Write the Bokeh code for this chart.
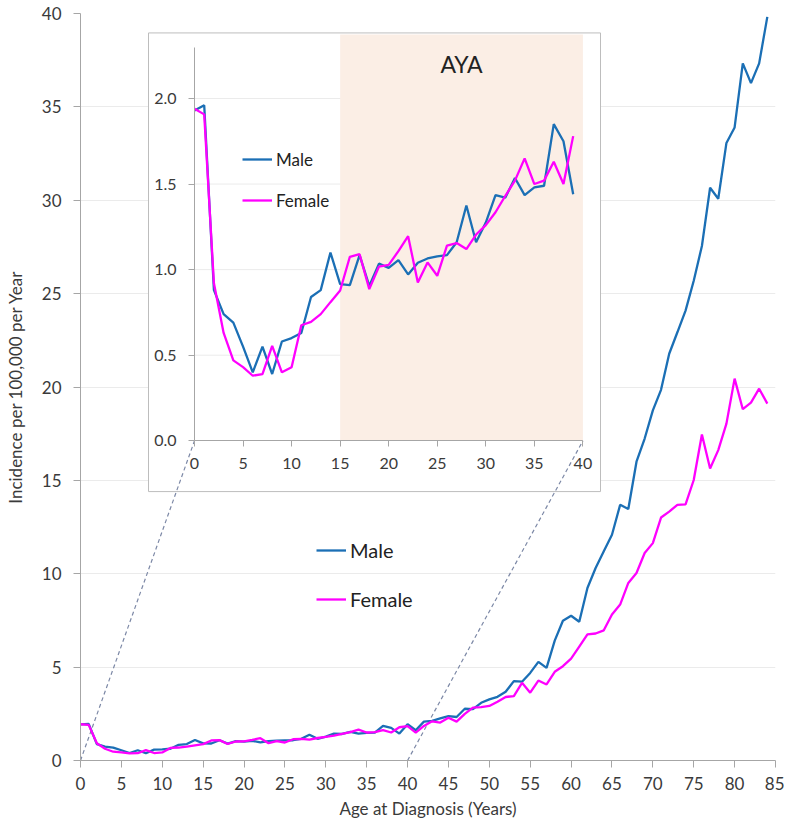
from bokeh.plotting import figure
from bokeh.models import (Range1d, LinearAxis, FixedTicker, PrintfTickFormatter,
                          Legend, LegendItem, Label)
from bokeh.embed import file_html
from bokeh.resources import INLINE

# ---------------- data ----------------
ages = list(range(85))
male_rate = [1.93, 1.96, 0.88, 0.74, 0.69, 0.55, 0.40, 0.55, 0.39, 0.58,
             0.60, 0.63, 0.84, 0.88, 1.10, 0.915, 0.91, 1.085, 0.905, 1.035,
             1.01, 1.055, 0.972, 1.04, 1.065, 1.078, 1.085, 1.16, 1.375, 1.16,
             1.275, 1.435, 1.42, 1.535, 1.435, 1.48, 1.49, 1.85, 1.75, 1.44,
             1.94, 1.62, 2.08, 2.12, 2.26, 2.38, 2.33, 2.77, 2.75, 3.09,
             3.27, 3.41, 3.68, 4.25, 4.22, 4.69, 5.28, 4.96, 6.42, 7.48,
             7.75, 7.43, 9.24, 10.31, 11.2, 12.09, 13.69, 13.47, 16.0, 17.24,
             18.75, 19.85, 21.78, 22.93, 24.09, 25.69, 27.55, 30.67, 30.08, 33.07,
             33.9, 37.33, 36.27, 37.33, 39.82]
female_rate = [1.94, 1.907, 0.92, 0.63, 0.47, 0.43, 0.38, 0.39, 0.555, 0.40,
               0.43, 0.675, 0.695, 0.74, 0.81, 0.878, 1.075, 1.09, 0.886, 1.018,
               1.028, 1.108, 1.195, 0.925, 1.042, 0.964, 1.14, 1.155, 1.12, 1.205,
               1.26, 1.335, 1.43, 1.52, 1.65, 1.50, 1.52, 1.63, 1.50, 1.78,
               1.84, 1.49, 1.85, 2.10, 2.03, 2.29, 2.08, 2.50, 2.83, 2.86,
               2.92, 3.15, 3.40, 3.45, 4.16, 3.63, 4.28, 4.07, 4.75, 5.05,
               5.45, 6.10, 6.75, 6.80, 6.97, 7.82, 8.35, 9.51, 10.04, 11.11,
               11.64, 13.01, 13.33, 13.69, 13.72, 15.02, 17.46, 15.64, 16.62, 18.04,
               20.45, 18.81, 19.16, 19.91, 19.11]
inset_age_limit = 40
aya_span = [15, 40]
aya_text = "AYA"
series_names = ["Male", "Female"]
main_xticks = list(range(0, 90, 5))
main_yticks = list(range(0, 45, 5))
inset_xticks = list(range(0, 45, 5))
inset_yticks = [0.0, 0.5, 1.0, 1.5, 2.0]
x_title = "Age at Diagnosis (Years)"
y_title = "Incidence per 100,000 per Year"

# ---------------- style / layout ----------------
FONT = "Lato"
MALE_C = "#1b6fb5"
FEMALE_C = "#ff00ff"
AXIS_C = "#a6a6a6"
GRID_C = "#ebebeb"
TEXT_C = "#3a3a3a"
SHADE_C = "#fbeee5"

W, H = 784, 821
BL, BR, BT, BB = 80, 9, 13, 58
FW, FH = W - BL - BR, H - BT - BB          # frame size in px
MAIN_X = (0, 85)
MAIN_Y = (0, 40)

# inset placement, given in canvas pixels, converted to frame pixels
IN_OX, IN_OY = 194.0 - BL, 442.0 - BT     # inset data origin
IN_SX, IN_SY = 9.71, 171.85               # px per inset unit
BOX_L, BOX_R, BOX_T, BOX_B = 148.0 - BL, 600.0 - BL, 32.5 - BT, 493.0 - BT
AYA_TEXT_Y = 63.3 - BT
INSET_Y_AXIS_TOP = 2.3
LEG_MAIN = (316 - BL, (H - BB) - 614)     # legend bottom-left, frame px
LEG_INSET = (242 - BL, (H - BB) - 215)


def ix(px):
    return (px - IN_OX) / IN_SX


def iy(py):
    return (IN_OY - py) / IN_SY


def mx(px):
    return MAIN_X[0] + px / FW * (MAIN_X[1] - MAIN_X[0])


def my(py):
    return MAIN_Y[0] + (FH - py) / FH * (MAIN_Y[1] - MAIN_Y[0])


p = figure(width=W, height=H, x_range=Range1d(*MAIN_X), y_range=Range1d(*MAIN_Y),
           output_backend="svg", toolbar_location=None,
           min_border_left=BL, min_border_right=BR, min_border_top=BT,
           min_border_bottom=BB)
p.outline_line_color = None
p.background_fill_color = "white"
p.border_fill_color = "white"
p.extra_x_ranges = {"ix": Range1d(ix(0), ix(FW))}
p.extra_y_ranges = {"iy": Range1d(iy(FH), iy(0))}

# main grid
p.xgrid.visible = False
p.ygrid.ticker = FixedTicker(ticks=main_yticks)
p.ygrid.grid_line_color = GRID_C

# main axes
for ax in (p.xaxis[0], p.yaxis[0]):
    ax.axis_line_color = AXIS_C
    ax.major_tick_line_color = AXIS_C
    ax.minor_tick_line_color = None
    ax.major_tick_in = 0
    ax.major_tick_out = 7
    ax.major_label_text_font = FONT
    ax.major_label_text_font_size = "17px"
    ax.major_label_text_color = TEXT_C
    ax.axis_label_text_font = FONT
    ax.axis_label_text_font_size = "17px"
    ax.axis_label_text_font_style = "normal"
    ax.axis_label_text_color = TEXT_C
p.xaxis.ticker = FixedTicker(ticks=main_xticks)
p.yaxis.ticker = FixedTicker(ticks=main_yticks)
p.xaxis.major_label_standoff = 9
p.yaxis.major_label_standoff = 12
p.xaxis.axis_label = x_title
p.yaxis.axis_label = y_title
p.xaxis.axis_label_standoff = 5
p.yaxis.axis_label_standoff = 13

# inset white box
p.quad(left=[ix(BOX_L)], right=[ix(BOX_R)], top=[iy(BOX_T)], bottom=[iy(BOX_B)],
       x_range_name="ix", y_range_name="iy",
       fill_color="white", line_color="#bdbdbd", line_width=1)

# inset grid
gy = [t for t in inset_yticks if t > 0]
p.segment(x0=[inset_xticks[0]] * len(gy), x1=[inset_xticks[-1]] * len(gy), y0=gy, y1=gy,
          x_range_name="ix", y_range_name="iy", line_color=GRID_C, line_width=1)

# AYA shading
p.quad(left=[aya_span[0]], right=[aya_span[1]], top=[iy(BOX_T + 1.5)], bottom=[0],
       x_range_name="ix", y_range_name="iy", fill_color=SHADE_C, line_color=None)
p.add_layout(Label(x=sum(aya_span) / 2, y=iy(AYA_TEXT_Y), x_range_name="ix", y_range_name="iy",
                   text=aya_text, text_align="center", text_baseline="middle",
                   text_font=FONT, text_font_size="23px", text_color="#222222"))

# connecting dashed lines (main -> inset)
p.segment(x0=[0, inset_age_limit], y0=[0, 0],
          x1=[mx(IN_OX), mx(IN_OX + inset_age_limit * IN_SX)], y1=[my(IN_OY), my(IN_OY)],
          line_color="#7c88a6", line_dash="4 3", line_width=1.2)

# main lines
rm = p.line(ages, male_rate, line_color=MALE_C, line_width=2.3)
rf = p.line(ages, female_rate, line_color=FEMALE_C, line_width=2.3)

# inset lines
n = inset_age_limit
irm = p.line(ages[:n], male_rate[:n], x_range_name="ix", y_range_name="iy",
             line_color=MALE_C, line_width=2.3)
irf = p.line(ages[:n], female_rate[:n], x_range_name="ix", y_range_name="iy",
             line_color=FEMALE_C, line_width=2.3)

# inset axes
iax = LinearAxis(x_range_name="ix", y_range_name="iy", fixed_location=0,
                 bounds=(inset_xticks[0], inset_xticks[-1]),
                 ticker=FixedTicker(ticks=inset_xticks))
iay = LinearAxis(x_range_name="ix", y_range_name="iy", fixed_location=0,
                 bounds=(0, INSET_Y_AXIS_TOP),
                 ticker=FixedTicker(ticks=inset_yticks),
                 formatter=PrintfTickFormatter(format="%.1f"))
for ax in (iax, iay):
    ax.axis_line_color = AXIS_C
    ax.major_tick_line_color = AXIS_C
    ax.minor_tick_line_color = None
    ax.major_tick_in = 0
    ax.major_tick_out = 6
    ax.major_label_text_font = FONT
    ax.major_label_text_font_size = "16px"
    ax.major_label_text_color = TEXT_C
iax.major_label_standoff = 11
iay.major_label_standoff = 12
p.add_layout(iax, "below")
p.add_layout(iay, "left")

# legends
def make_legend(items, loc, size, spacing):
    lg = Legend(items=items, location=loc, orientation="vertical",
                glyph_width=30, glyph_height=24, label_height=24,
                spacing=spacing, padding=0, margin=0, label_standoff=4,
                border_line_color=None, background_fill_alpha=0,
                label_text_font=FONT, label_text_font_size=size,
                label_text_color="#222222")
    return lg


p.add_layout(make_legend([LegendItem(label=series_names[0], renderers=[rm]),
                          LegendItem(label=series_names[1], renderers=[rf])],
                         LEG_MAIN, "20px", 25), "center")
p.add_layout(make_legend([LegendItem(label=series_names[0], renderers=[irm]),
                          LegendItem(label=series_names[1], renderers=[irf])],
                         LEG_INSET, "17px", 17), "center")

open("out.html", "w").write(file_html(p, INLINE))
